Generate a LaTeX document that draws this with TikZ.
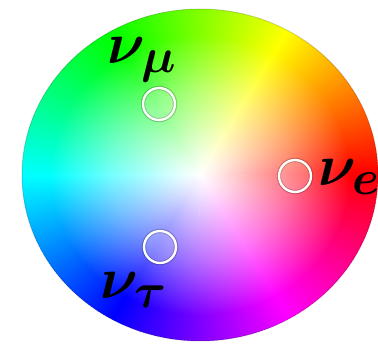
\documentclass[tikz,border=0pt]{standalone}
\usetikzlibrary{fadings}
\pgfdeclareradialshading{wheelfadeshade}{\pgfpoint{0bp}{0bp}}{%
  color(0bp)=(pgftransparent!0);
  color(3bp)=(pgftransparent!12);
  color(12.5bp)=(pgftransparent!55);
  color(21bp)=(pgftransparent!100);
  color(50bp)=(pgftransparent!100)}
\pgfdeclarefading{wheelfade}{\pgfuseshading{wheelfadeshade}}
\tikzset{
  ring/.style={circle, minimum size=32pt, inner sep=0pt, draw=white, line width=2.3pt,
    fill=white, fill opacity=0.18,
    preaction={draw=black, draw opacity=0.22, line width=4.4pt}},
  lbl/.style={inner sep=0pt, anchor=base west, scale=2.35, text=black, font=\Huge}
}
\begin{document}
\begin{tikzpicture}[x=1pt,y=1pt]
\useasboundingbox (0,0) rectangle (378,344);
\fill[white] (0,0) rectangle (378,344);
\begin{scope}[shift={(200,169)}, xscale=178, yscale=166]
  \foreach \a in {0,...,359}{
    \definecolor{wc}{Hsb}{\a,1,1}
    \fill[wc] (0,0) -- (\a:1) arc[start angle=\a, end angle=\a+1.6, radius=1] -- cycle;
  }
  \fill[white, path fading=wheelfade] (0,0) circle[radius=1];
  \draw[black, draw opacity=0.15, line width=1pt] (0,0) circle[radius=1];
\end{scope}
\node[ring] (cmu) at (159,240) {};
\node[ring] (ce) at (295,168) {};
\node[ring] (ctau) at (160,97) {};
\node[lbl] (numu) at (107,280) {{\boldmath$\nu_\mu$}};
\node[lbl] (nue) at (318,158) {{\boldmath$\nu_e$}};
\node[lbl] (nutau) at (100,45) {{\boldmath$\nu_\tau$}};
\end{tikzpicture}
\end{document}
